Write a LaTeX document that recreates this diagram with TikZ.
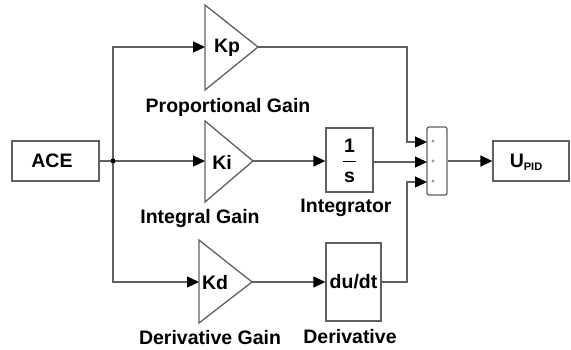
\documentclass[tikz,border=0pt]{standalone}
\usepackage{fontspec}
\setmainfont{Liberation Sans}
\usepackage{tikz}
\usetikzlibrary{arrows.meta}

\begin{document}
\begin{tikzpicture}[x=1pt,y=-1pt,
	line/.style={draw=gray!75!black,line width=1.3pt},
	flow/.style={line,-{Triangle[length=12pt,width=11pt,color=black]}},
	blockbox/.style={line,rectangle,inner sep=0pt},
	lbl/.style={font=\fontsize{19.5}{22}\selectfont\bfseries,inner sep=0pt},
	plus/.style={font=\fontsize{6}{6}\selectfont,inner sep=0pt}]
	\useasboundingbox (0,0) rectangle (571,349);
	% blocks
	\node[blockbox,minimum width=87pt,minimum height=40pt] (ace) at (55.5,161) {};
	\node[blockbox,minimum width=47pt,minimum height=64pt] (integ) at (349.5,160) {};
	\node[blockbox,minimum width=55pt,minimum height=78pt] (deriv) at (353.5,282) {};
	\node[blockbox,rounded corners=2pt,minimum width=20pt,minimum height=68pt] (sum) at (437,161) {};
	\node[blockbox,minimum width=76pt,minimum height=40pt] (upid) at (531,161) {};
	% gain triangles
	\coordinate (kpin) at (205,47);  \coordinate (kpout) at (258,47);
	\coordinate (kiin) at (205,161); \coordinate (kiout) at (253,161);
	\coordinate (kdin) at (199,282); \coordinate (kdout) at (252,282);
	\draw[line,line join=miter] (205,5) -- (kpout) -- (205,90) -- cycle;
	\draw[line,line join=miter] (205,121) -- (kiout) -- (205,202) -- cycle;
	\draw[line,line join=miter] (199,240) -- (kdout) -- (199,323) -- cycle;
	% sum inputs and bends
	\coordinate (j) at (113,161);
	\coordinate (sin1) at (427,142);
	\coordinate (sin2) at (427,162);
	\coordinate (sin3) at (427,182);
	\coordinate (bendp) at (407,142);
	\coordinate (bendd) at (407,182);
	% texts
	\node[lbl] (acet) at (52,161) {ACE};
	\node[lbl] (kpt) at (227,48) {Kp};
	\node[lbl] (kit) at (222,162) {Ki};
	\node[lbl] (kdt) at (215,283) {Kd};
	\node[lbl] (one) at (349.5,146) {1};
	\node[lbl] (ess) at (349.5,177) {s};
	\draw[draw=black,line width=1pt] (343,161.5) -- (356,161.5);
	\node[lbl] (dudt) at (deriv) {du/dt};
	\node[lbl] (upidt) at (526,162) {U\raisebox{-3pt}{\fontsize{11}{11}\selectfont PID}};
	\node[lbl] (pgain) at (228,107) {Proportional Gain};
	\node[lbl] (igain) at (200,218) {Integral Gain};
	\node[lbl] (dgain) at (210,338) {Derivative Gain};
	\node[lbl] (integl) at (346,208) {Integrator};
	\node[lbl] (derivl) at (350,337) {Derivative};
	\node[plus] (p1) at (433,142) {+};
	\node[plus] (p2) at (433,162) {+};
	\node[plus] (p3) at (433,182) {+};
	% connectors
	\draw[line] (ace.east) -- (j);
	\draw[flow] (j) -- (kiin);
	\draw[flow] (j) |- (kpin);
	\draw[flow] (j) |- (kdin);
	\fill[black] (j) circle (2.5pt);
	\draw[flow] (kiout) -- (integ.west |- kiout);
	\draw[flow] (kdout) -- (deriv.west);
	\draw[flow] (kpout) -| (bendp) -- (sin1);
	\draw[flow] (integ.east |- sin2) -- (sin2);
	\draw[flow] (deriv.east) -| (bendd) -- (sin3);
	\draw[flow] (sum.east) -- (upid.west);
\end{tikzpicture}
\end{document}
